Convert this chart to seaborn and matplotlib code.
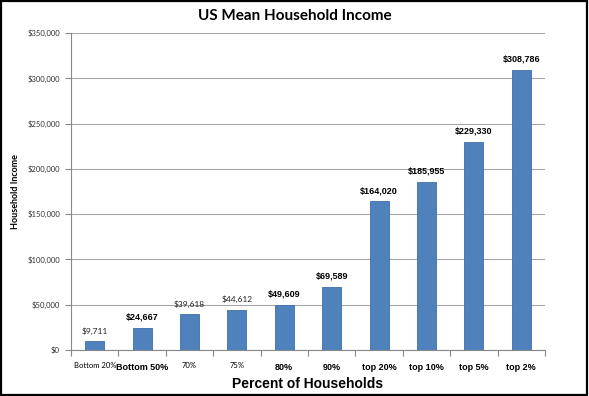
import matplotlib
matplotlib.use("Agg")
import matplotlib.pyplot as plt
import seaborn as sns
import pandas as pd
from matplotlib.ticker import FuncFormatter, FixedLocator
from matplotlib.patches import Rectangle

categories = ["Bottom 20%", "Bottom 50%", "70%", "75%", "80%", "90%",
              "top 20%", "top 10%", "top 5%", "top 2%"]
values = [9711, 24667, 39618, 44612, 49609, 69589, 164020, 185955, 229330, 308786]
y_ticks = [0, 50000, 100000, 150000, 200000, 250000, 300000, 350000]

title = "US Mean Household Income"
x_label = "Percent of Households"
y_label = "Household Income"

# categories whose labels are drawn in the larger bold style
emphasized = {"Bottom 50%", "80%", "90%", "top 20%", "top 10%", "top 5%", "top 2%"}

sns.set_theme(style="white")
plt.rcParams["font.family"] = ["Liberation Sans", "DejaVu Sans"]
arial = ["Liberation Sans", "DejaVu Sans"]
calibri = ["Lato", "DejaVu Sans"]

df = pd.DataFrame({"cat": categories, "val": values})

fig = plt.figure(figsize=(5.89, 3.96), dpi=100)
ax = fig.add_axes([71/589, 1-350/396, (545-71)/589, (350-33)/396])

sns.barplot(data=df, x="cat", y="val", ax=ax, color="#4F81BD", width=0.4,
            saturation=1, edgecolor="#3F6FA8", linewidth=0.6, zorder=3)

ax.set_ylim(0, 350000)
ax.set_xlim(-0.5, len(categories) - 0.5)
ax.yaxis.set_major_locator(FixedLocator(y_ticks))
ax.yaxis.set_major_formatter(FuncFormatter(lambda v, p: f"${int(v):,}"))
ax.grid(axis="y", color="#A6A6A6", linewidth=0.8, zorder=0)
ax.grid(axis="x", visible=False)

for s in ["top", "right"]:
    ax.spines[s].set_visible(False)
for s in ["left", "bottom"]:
    ax.spines[s].set_color("#888888")
    ax.spines[s].set_linewidth(0.8)

ax.tick_params(axis="y", which="major", left=True, length=4, width=0.8,
               color="#888888", labelsize=5.5, labelcolor="#333333", pad=4)
for lab in ax.get_yticklabels():
    lab.set_family(calibri)

# x tick marks between categories
ax.set_xticks([i - 0.5 for i in range(len(categories) + 1)], minor=True)
ax.tick_params(axis="x", which="minor", bottom=True, length=4, width=0.8, color="#888888")
ax.tick_params(axis="x", which="major", bottom=False, pad=3)
ax.set_xticks(range(len(categories)))
ax.set_xticklabels(categories)
for lab, c in zip(ax.get_xticklabels(), categories):
    if c in emphasized:
        lab.set_fontsize(6.5)
        lab.set_fontweight("bold")
        lab.set_family(arial)
    else:
        lab.set_fontsize(5.5)
        lab.set_family(calibri)
    lab.set_color("black")

# value labels
for i, (c, v) in enumerate(zip(categories, values)):
    if c in emphasized:
        ax.text(i, v + 7000, f"${v:,}", ha="center", va="bottom", fontsize=6.5,
                fontweight="bold", family=arial, color="black")
    else:
        ax.text(i, v + 7000, f"${v:,}", ha="center", va="bottom", fontsize=6,
                family=calibri, color="#222222")

ax.set_xlabel(x_label, fontsize=10, fontweight="bold", family=arial,
              labelpad=4, color="black")
ax.set_ylabel(y_label, fontsize=6.5, fontweight="bold", family=calibri,
              labelpad=5, color="black")
fig.text(0.5, 1 - 16/396, title, ha="center", va="center", fontsize=11,
         fontweight="bold", family=calibri, color="black")

fig.patches.append(Rectangle((0.002, 0.003), 0.995, 0.994, transform=fig.transFigure,
                             fill=False, edgecolor="black", linewidth=1.6))

fig.savefig("out.png", dpi=100)
